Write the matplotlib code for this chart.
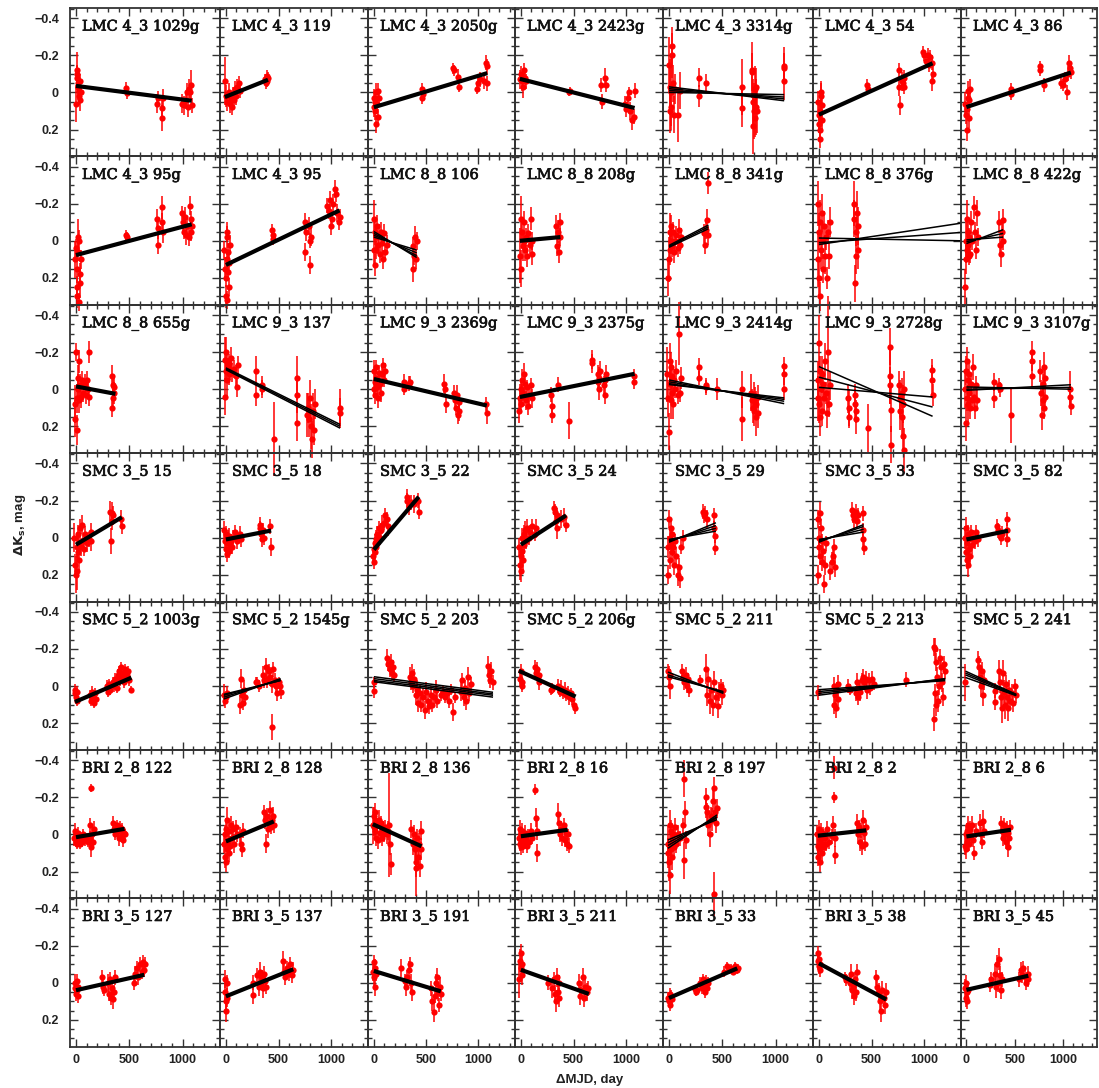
import numpy as np
import matplotlib
matplotlib.use("Agg")
import matplotlib.pyplot as plt
import matplotlib.patheffects as pe
from matplotlib.ticker import FixedLocator, MultipleLocator, FuncFormatter

# panel titles, row by row
names = ["LMC 4_3 1029g", "LMC 4_3 119", "LMC 4_3 2050g", "LMC 4_3 2423g", "LMC 4_3 3314g", "LMC 4_3 54", "LMC 4_3 86",
         "LMC 4_3 95g", "LMC 4_3 95", "LMC 8_8 106", "LMC 8_8 208g", "LMC 8_8 341g", "LMC 8_8 376g", "LMC 8_8 422g",
         "LMC 8_8 655g", "LMC 9_3 137", "LMC 9_3 2369g", "LMC 9_3 2375g", "LMC 9_3 2414g", "LMC 9_3 2728g", "LMC 9_3 3107g",
         "SMC 3_5 15", "SMC 3_5 18", "SMC 3_5 22", "SMC 3_5 24", "SMC 3_5 29", "SMC 3_5 33", "SMC 3_5 82",
         "SMC 5_2 1003g", "SMC 5_2 1545g", "SMC 5_2 203", "SMC 5_2 206g", "SMC 5_2 211", "SMC 5_2 213", "SMC 5_2 241",
         "BRI 2_8 122", "BRI 2_8 128", "BRI 2_8 136", "BRI 2_8 16", "BRI 2_8 197", "BRI 2_8 2", "BRI 2_8 6",
         "BRI 3_5 127", "BRI 3_5 137", "BRI 3_5 191", "BRI 3_5 211", "BRI 3_5 33", "BRI 3_5 38", "BRI 3_5 45"]

# fitted lines: x range and start / end values (one value = tight bundle)
fit_x = [(0, 1085), (-10, 400), (0, 1085), (-10, 1080), (0, 1080), (0, 1080), (0, 1080),
         (0, 1085), (0, 1080), (0, 410), (-10, 375), (0, 370), (0, 1350), (0, 380),
         (0, 370), (0, 1085), (0, 1080), (-10, 1080), (0, 1080), (0, 1080), (0, 1080),
         (0, 430), (0, 430), (0, 430), (0, 430), (0, 440), (0, 425), (0, 430),
         (-10, 520), (-20, 520), (0, 1140), (-20, 520), (-10, 510), (-5, 1200), (-10, 515),
         (0, 455), (0, 455), (-10, 455), (0, 445), (-10, 450), (-10, 450), (0, 460),
         (0, 640), (0, 640), (0, 640), (0, 645), (0, 640), (0, 640), (0, 640)]
fit_y0 = [[-0.035], [0.025], [0.08], [-0.073], [-0.03, -0.02, -0.01, 0.0], [0.12], [0.079],
          [0.077], [0.13], [-0.05, -0.04, -0.03, -0.02], [0.0], [0.035, 0.03, 0.025], [0.02, 0.01, -0.015], [0.015, 0.005, -0.005],
          [-0.015], [-0.115, -0.11, -0.105], [-0.055], [0.042], [-0.05, -0.04, -0.03, -0.025], [-0.122, -0.065, -0.01], [0.006, 0.0, -0.012],
          [0.038], [0.01], [0.065], [0.038], [0.025, 0.02, 0.015, 0.01], [0.025, 0.02, 0.015, 0.01], [0.01],
          [0.086], [0.07, 0.06, 0.05, 0.045], [-0.05, -0.04, -0.03, -0.023], [-0.082], [-0.075, -0.06, -0.05], [0.05, 0.04, 0.03, 0.02], [-0.08, -0.07, -0.06, -0.046],
          [0.015], [0.038], [-0.055], [0.01], [0.075, 0.06, 0.045, 0.03], [0.007], [0.011],
          [0.04], [0.073], [-0.064], [-0.07], [0.082], [-0.105], [0.038]]
fit_y1 = [[0.045], [-0.068], [-0.104], [0.084], [0.045, 0.035, 0.025, 0.012], [-0.157], [-0.107],
          [-0.089], [-0.164], [0.09, 0.08, 0.065, 0.05], [-0.02], [-0.065, -0.075, -0.085], [-0.095, -0.045, 0.0], [-0.06, -0.04, -0.02],
          [0.025], [0.19, 0.2, 0.21], [0.088], [-0.083], [0.078, 0.065, 0.055, 0.047], [0.146, 0.096, 0.042], [-0.024, -0.01, 0.0],
          [-0.11], [-0.038], [-0.22], [-0.12], [-0.08, -0.065, -0.05, -0.035], [-0.07, -0.06, -0.045, -0.03], [-0.037],
          [-0.045], [-0.04, -0.035, -0.03, -0.03], [0.034, 0.043, 0.05, 0.06], [0.057], [0.04, 0.035, 0.03], [-0.04, -0.037, -0.033, -0.029], [0.045, 0.047, 0.05, 0.052],
          [-0.03], [-0.07], [0.064], [-0.025], [-0.105, -0.095, -0.09, -0.08], [-0.022], [-0.025],
          [-0.043], [-0.073], [0.046], [0.06], [-0.078], [0.09], [-0.038]]

# measurements (dMJD, dK, error) per star
lmc43_1029g = [(5, -0.12, 0.1), (10, -0.08, 0.06), (15, -0.05, 0.05), (20, -0.03, 0.07), (25, -0.01, 0.05), (30, 0.02, 0.05),
               (35, 0.04, 0.06), (0, 0.06, 0.1), (40, -0.06, 0.04), (45, 0.0, 0.04), (12, -0.1, 0.05), (470, -0.025, 0.03),
               (475, 0.005, 0.03), (760, 0.06, 0.05), (765, 0.03, 0.04), (805, 0.085, 0.05), (810, 0.14, 0.07), (815, 0.03, 0.05),
               (990, 0.06, 0.05), (1010, 0.07, 0.05), (1030, 0.04, 0.05), (1040, 0.0, 0.05), (1050, 0.08, 0.05), (1060, -0.02, 0.05),
               (1070, 0.0, 0.04), (1080, -0.04, 0.08), (1085, 0.07, 0.04)]
lmc43_119 = [(-10, -0.06, 0.13), (5, 0.02, 0.06), (15, 0.05, 0.05), (25, 0.0, 0.05), (35, 0.06, 0.05), (45, 0.03, 0.04),
             (55, 0.08, 0.04), (65, 0.01, 0.04), (75, 0.04, 0.04), (85, -0.02, 0.04), (100, 0.02, 0.05), (110, -0.03, 0.04),
             (120, -0.05, 0.04), (130, -0.01, 0.04), (370, -0.07, 0.03), (380, -0.05, 0.03), (390, -0.09, 0.03), (400, -0.08, 0.03),
             (395, -0.06, 0.03)]
lmc43_2050g = [(0, 0.03, 0.05), (10, 0.05, 0.06), (15, 0.1, 0.05), (20, 0.17, 0.05), (25, 0.0, 0.05), (30, 0.06, 0.04),
               (40, -0.01, 0.04), (50, 0.03, 0.04), (5, 0.08, 0.05), (35, 0.13, 0.04), (460, -0.02, 0.03), (470, 0.01, 0.03),
               (465, 0.03, 0.03), (755, -0.13, 0.03), (765, -0.12, 0.03), (805, -0.085, 0.04), (810, -0.03, 0.03),
               (990, -0.02, 0.03), (1000, -0.05, 0.03), (1020, -0.07, 0.04), (1050, -0.06, 0.04), (1075, -0.16, 0.04),
               (1080, -0.14, 0.04), (1085, -0.05, 0.04)]
lmc43_2423g = [(-10, -0.07, 0.05), (0, -0.1, 0.04), (10, -0.06, 0.05), (20, -0.03, 0.06), (30, -0.12, 0.04), (40, -0.08, 0.04),
               (45, -0.06, 0.04), (460, 0.0, 0.02), (465, -0.01, 0.02), (760, -0.04, 0.04), (770, 0.05, 0.04), (805, -0.04, 0.04),
               (800, -0.08, 0.05), (990, 0.06, 0.04), (1000, 0.09, 0.04), (1020, 0.03, 0.04), (1030, 0.0, 0.03), (1040, 0.1, 0.05),
               (1060, 0.15, 0.05), (1075, 0.13, 0.04), (1080, -0.01, 0.04)]
lmc43_3314g = [(0, -0.15, 0.15), (5, 0.1, 0.12), (10, -0.03, 0.15), (15, 0.0, 0.2), (20, 0.08, 0.1), (25, -0.2, 0.12),
               (30, -0.25, 0.1), (40, -0.05, 0.1), (50, 0.12, 0.1), (60, -0.02, 0.08), (80, 0.12, 0.15), (100, -0.01, 0.1),
               (280, -0.08, 0.05), (285, 0.02, 0.06), (345, -0.05, 0.05), (680, -0.03, 0.15), (682, 0.085, 0.1),
               (775, -0.12, 0.15), (780, -0.11, 0.1), (785, 0.18, 0.15), (790, 0.05, 0.12), (800, 0.1, 0.15), (805, -0.02, 0.12),
               (810, 0.14, 0.1), (815, 0.08, 0.15), (820, -0.03, 0.1), (825, 0.1, 0.12), (1075, -0.145, 0.1), (1078, -0.13, 0.08),
               (1080, -0.06, 0.1)]
lmc43_54 = [(-10, 0.05, 0.06), (0, 0.12, 0.08), (5, 0.17, 0.05), (10, 0.1, 0.06), (15, 0.25, 0.05), (20, 0.02, 0.07),
            (25, 0.07, 0.05), (30, 0.15, 0.05), (8, 0.2, 0.06), (18, 0.0, 0.06), (460, -0.04, 0.03), (470, -0.02, 0.03),
            (760, -0.12, 0.04), (765, -0.03, 0.05), (770, 0.07, 0.05), (790, -0.06, 0.05), (800, -0.05, 0.04), (805, -0.08, 0.04),
            (810, -0.03, 0.04), (985, -0.22, 0.03), (1000, -0.2, 0.03), (1020, -0.17, 0.04), (1040, -0.2, 0.04),
            (1050, -0.15, 0.04), (1060, -0.19, 0.04), (1070, -0.16, 0.04), (1075, -0.06, 0.05), (1080, -0.1, 0.04)]
lmc43_86 = [(-10, 0.06, 0.06), (0, 0.12, 0.05), (5, 0.2, 0.06), (10, 0.09, 0.04), (15, 0.03, 0.05), (20, -0.01, 0.05),
            (25, 0.14, 0.05), (30, 0.04, 0.04), (40, -0.02, 0.05), (460, -0.02, 0.03), (465, 0.01, 0.03), (760, -0.14, 0.03),
            (765, -0.12, 0.03), (805, -0.04, 0.04), (980, -0.05, 0.03), (1000, -0.04, 0.03), (1020, -0.07, 0.04),
            (1035, 0.0, 0.04), (1050, -0.1, 0.04), (1065, -0.16, 0.04), (1075, -0.13, 0.04), (1080, -0.11, 0.04)]

lmc43_95g = [(-10, 0.1, 0.1), (0, 0.04, 0.05), (5, 0.25, 0.06), (10, 0.15, 0.08), (15, -0.02, 0.1), (20, 0.06, 0.05),
             (25, 0.33, 0.05), (30, 0.0, 0.06), (35, 0.18, 0.06), (40, 0.23, 0.08), (45, 0.1, 0.05), (12, 0.3, 0.06),
             (470, -0.03, 0.03), (475, -0.02, 0.03), (760, -0.12, 0.05), (765, -0.07, 0.06), (768, 0.02, 0.05),
             (805, -0.18, 0.06), (810, -0.1, 0.05), (812, -0.05, 0.06), (990, -0.15, 0.04), (1000, -0.1, 0.05),
             (1010, -0.05, 0.04), (1020, -0.13, 0.05), (1030, -0.03, 0.05), (1045, -0.08, 0.04), (1055, -0.02, 0.05),
             (1065, -0.19, 0.05), (1075, -0.12, 0.04), (1080, -0.05, 0.05), (1085, -0.08, 0.04)]
lmc43_95 = [(-20, 0.05, 0.05), (-10, 0.15, 0.06), (0, 0.2, 0.05), (5, 0.3, 0.06), (10, 0.1, 0.05), (15, -0.05, 0.05),
            (20, 0.17, 0.04), (25, 0.25, 0.05), (30, 0.12, 0.05), (35, 0.02, 0.05), (12, 0.32, 0.05), (22, 0.06, 0.05),
            (8, -0.02, 0.06), (440, -0.06, 0.03), (445, -0.03, 0.03), (450, -0.01, 0.03), (750, -0.1, 0.05), (755, 0.06, 0.05),
            (760, -0.05, 0.05), (790, -0.08, 0.05), (795, 0.0, 0.04), (800, 0.13, 0.05), (805, -0.02, 0.05), (960, -0.19, 0.04),
            (975, -0.16, 0.04), (990, -0.22, 0.05), (1000, -0.08, 0.05), (1010, -0.12, 0.04), (1020, -0.2, 0.05),
            (1040, -0.28, 0.05), (1050, -0.25, 0.04), (1060, -0.15, 0.05), (1075, -0.1, 0.04), (1080, -0.13, 0.04)]
lmc88_106 = [(0, -0.12, 0.1), (5, 0.05, 0.08), (10, -0.05, 0.07), (15, 0.13, 0.06), (20, -0.02, 0.06), (25, 0.05, 0.05),
             (30, -0.08, 0.06), (40, 0.02, 0.05), (50, -0.03, 0.06), (60, 0.07, 0.05), (70, -0.05, 0.05), (80, 0.01, 0.05),
             (90, 0.1, 0.05), (100, -0.04, 0.05), (110, 0.06, 0.04), (130, 0.02, 0.05), (370, 0.03, 0.05), (375, 0.15, 0.07),
             (380, 0.08, 0.05), (390, -0.02, 0.06), (400, 0.1, 0.05), (410, 0.0, 0.05)]
lmc88_208g = [(-10, 0.08, 0.15), (0, -0.12, 0.12), (5, 0.15, 0.1), (10, -0.05, 0.08), (20, 0.03, 0.08), (25, -0.1, 0.06),
              (30, 0.0, 0.05), (40, 0.05, 0.06), (50, -0.02, 0.05), (60, 0.08, 0.06), (70, -0.04, 0.05), (85, 0.02, 0.05),
              (95, -0.12, 0.06), (105, 0.07, 0.06), (110, 0.0, 0.05), (330, -0.08, 0.06), (340, 0.03, 0.05), (350, -0.05, 0.06),
              (360, 0.06, 0.06), (370, -0.02, 0.05), (375, -0.1, 0.05)]
lmc88_341g = [(-5, 0.2, 0.1), (0, 0.1, 0.12), (5, -0.05, 0.1), (10, 0.05, 0.08), (15, 0.0, 0.07), (20, -0.08, 0.06),
              (30, 0.03, 0.06), (40, -0.05, 0.05), (50, 0.06, 0.06), (60, 0.0, 0.05), (70, -0.03, 0.05), (80, 0.04, 0.05),
              (90, -0.06, 0.06), (100, 0.02, 0.05), (110, -0.02, 0.05), (330, -0.04, 0.05), (340, 0.02, 0.05),
              (350, -0.06, 0.05), (360, -0.11, 0.06), (365, -0.31, 0.06), (370, -0.03, 0.05)]
lmc88_376g = [(-10, -0.2, 0.12), (-5, 0.1, 0.15), (0, -0.05, 0.1), (5, 0.2, 0.1), (10, 0.3, 0.08), (15, -0.1, 0.12),
              (20, 0.05, 0.1), (25, -0.15, 0.1), (30, 0.0, 0.1), (40, 0.15, 0.08), (50, -0.08, 0.08), (60, 0.08, 0.1),
              (70, -0.02, 0.07), (80, 0.2, 0.06), (90, -0.05, 0.06), (100, 0.08, 0.07), (110, -0.1, 0.08), (330, -0.2, 0.12),
              (335, -0.12, 0.1), (340, 0.23, 0.1), (350, -0.05, 0.08), (355, 0.08, 0.1), (360, -0.15, 0.12), (370, 0.05, 0.1),
              (375, -0.08, 0.1)]
lmc88_422g = [(-10, 0.25, 0.1), (-5, 0.0, 0.12), (0, 0.1, 0.08), (5, -0.12, 0.1), (10, 0.05, 0.06), (15, -0.05, 0.06),
              (20, 0.02, 0.05), (25, 0.08, 0.05), (30, -0.02, 0.05), (40, 0.07, 0.05), (50, -0.1, 0.06), (60, 0.0, 0.05),
              (80, -0.18, 0.06), (90, -0.05, 0.05), (100, 0.05, 0.05), (110, -0.15, 0.07), (120, -0.02, 0.05),
              (340, -0.1, 0.06), (350, 0.02, 0.05), (355, 0.07, 0.07), (365, -0.05, 0.06), (375, 0.0, 0.05), (380, -0.11, 0.06)]

lmc88_655g = [(-10, 0.08, 0.1), (-5, 0.16, 0.1), (0, -0.2, 0.05), (5, 0.05, 0.08), (10, 0.22, 0.08), (15, -0.06, 0.07),
              (20, 0.0, 0.08), (25, -0.15, 0.06), (30, 0.06, 0.07), (40, -0.02, 0.06), (50, 0.04, 0.06), (60, -0.05, 0.05),
              (70, 0.02, 0.05), (80, -0.03, 0.05), (90, 0.03, 0.05), (100, -0.05, 0.05), (110, 0.0, 0.05), (120, -0.2, 0.06),
              (125, 0.04, 0.05), (335, -0.07, 0.06), (340, 0.1, 0.05), (345, -0.02, 0.05), (350, 0.05, 0.05), (355, 0.02, 0.06),
              (360, -0.01, 0.05)]
lmc93_137 = [(-10, 0.04, 0.1), (-5, -0.16, 0.12), (0, -0.2, 0.08), (5, -0.1, 0.06), (10, -0.15, 0.06), (15, -0.05, 0.1),
             (20, -0.12, 0.05), (25, -0.08, 0.06), (30, -0.14, 0.05), (40, -0.1, 0.05), (50, -0.17, 0.06), (60, -0.09, 0.05),
             (80, -0.11, 0.05), (100, -0.07, 0.06), (110, -0.01, 0.05), (115, -0.13, 0.05), (285, -0.1, 0.08), (290, 0.03, 0.06),
             (340, -0.02, 0.05), (345, 0.0, 0.05), (458, 0.27, 0.2), (675, -0.06, 0.12), (678, 0.03, 0.1), (680, 0.18, 0.1),
             (770, 0.14, 0.12), (780, 0.1, 0.08), (790, 0.16, 0.1), (800, 0.05, 0.1), (810, 0.2, 0.12), (820, 0.27, 0.1),
             (830, 0.12, 0.1), (840, 0.22, 0.08), (845, 0.08, 0.08), (1080, 0.1, 0.1), (1085, 0.13, 0.08)]
lmc93_2369g = [(0, 0.0, 0.05), (5, -0.1, 0.06), (10, -0.04, 0.05), (15, 0.03, 0.05), (20, -0.12, 0.04), (25, -0.06, 0.05),
               (30, -0.01, 0.05), (40, 0.05, 0.05), (50, -0.09, 0.04), (60, -0.03, 0.04), (70, 0.02, 0.05), (80, -0.08, 0.04),
               (90, -0.13, 0.04), (100, -0.05, 0.04), (110, -0.1, 0.04), (285, -0.04, 0.04), (290, 0.0, 0.03), (340, -0.03, 0.04),
               (345, -0.04, 0.03), (675, -0.03, 0.05), (680, 0.0, 0.04), (688, 0.08, 0.05), (770, 0.02, 0.04), (780, 0.06, 0.05),
               (790, 0.1, 0.04), (800, 0.03, 0.05), (805, 0.14, 0.05), (810, 0.07, 0.04), (815, 0.12, 0.05), (1075, 0.08, 0.04),
               (1080, 0.13, 0.06)]
lmc93_2375g = [(-15, 0.12, 0.06), (-5, 0.05, 0.08), (0, 0.0, 0.05), (5, 0.08, 0.05), (10, -0.05, 0.06), (15, 0.02, 0.05),
               (25, -0.08, 0.06), (30, 0.04, 0.05), (40, -0.03, 0.05), (50, 0.06, 0.05), (60, -0.01, 0.04), (70, 0.09, 0.05),
               (80, 0.03, 0.05), (95, -0.02, 0.04), (105, 0.05, 0.05), (290, 0.03, 0.04), (292, 0.09, 0.04), (295, 0.14, 0.04),
               (350, -0.025, 0.04), (460, 0.17, 0.1), (675, -0.14, 0.05), (680, -0.16, 0.05), (730, -0.08, 0.05),
               (735, -0.04, 0.05), (740, 0.0, 0.06), (745, -0.06, 0.06), (750, -0.1, 0.05), (790, -0.02, 0.05), (795, 0.03, 0.05),
               (800, -0.05, 0.04), (805, -0.08, 0.05), (1070, -0.07, 0.04), (1078, -0.04, 0.04)]
lmc93_2414g = [(-20, -0.08, 0.15), (-10, 0.05, 0.1), (0, 0.23, 0.1), (5, -0.15, 0.1), (10, -0.03, 0.08), (15, 0.06, 0.1),
               (20, -0.12, 0.08), (25, 0.02, 0.06), (30, -0.07, 0.07), (40, 0.08, 0.08), (50, -0.05, 0.06), (60, 0.0, 0.05),
               (70, -0.1, 0.06), (80, 0.03, 0.05), (90, -0.3, 0.17), (100, 0.02, 0.05), (110, -0.06, 0.06), (280, -0.12, 0.05),
               (282, -0.06, 0.04), (344, -0.02, 0.04), (348, -0.01, 0.04), (453, 0.0, 0.06), (680, 0.0, 0.1), (683, 0.16, 0.12),
               (765, 0.02, 0.1), (775, 0.06, 0.06), (785, 0.1, 0.08), (795, 0.03, 0.07), (800, 0.12, 0.08), (810, 0.05, 0.06),
               (815, 0.15, 0.1), (820, 0.08, 0.07), (830, 0.04, 0.06), (835, 0.13, 0.08), (1075, -0.125, 0.05),
               (1078, -0.08, 0.06), (1080, 0.0, 0.06)]
lmc93_2728g = [(-10, -0.05, 0.1), (-5, 0.05, 0.12), (0, -0.25, 0.15), (5, 0.08, 0.1), (10, -0.1, 0.08), (15, 0.15, 0.1),
               (20, 0.0, 0.08), (25, -0.08, 0.1), (30, 0.12, 0.08), (40, -0.03, 0.07), (50, 0.05, 0.08), (60, -0.15, 0.1),
               (70, 0.02, 0.06), (80, 0.13, 0.08), (90, -0.2, 0.3), (100, 0.08, 0.07), (105, -0.02, 0.08), (280, 0.05, 0.08),
               (285, 0.1, 0.1), (290, 0.15, 0.06), (340, 0.03, 0.06), (345, 0.08, 0.08), (350, 0.12, 0.06), (355, 0.16, 0.08),
               (462, 0.21, 0.13), (675, -0.23, 0.1), (677, -0.07, 0.15), (680, -0.02, 0.1), (682, 0.11, 0.12), (684, 0.3, 0.1),
               (765, -0.02, 0.08), (770, 0.05, 0.1), (775, 0.12, 0.1), (785, 0.02, 0.08), (790, 0.15, 0.12), (795, 0.25, 0.1),
               (800, 0.08, 0.1), (805, 0.33, 0.12), (810, 0.0, 0.1), (1075, -0.105, 0.06), (1078, -0.05, 0.08), (1080, 0.03, 0.06)]
lmc93_3107g = [(-15, 0.0, 0.1), (-5, -0.1, 0.08), (0, 0.18, 0.1), (5, 0.05, 0.07), (10, -0.15, 0.08), (15, 0.08, 0.1),
               (20, -0.05, 0.06), (25, 0.02, 0.05), (30, -0.08, 0.06), (40, 0.1, 0.06), (50, -0.03, 0.05), (60, 0.06, 0.06),
               (70, -0.12, 0.07), (80, 0.04, 0.05), (90, 0.1, 0.06), (100, -0.02, 0.05), (105, 0.06, 0.06), (280, -0.04, 0.05),
               (285, 0.05, 0.05), (340, -0.02, 0.04), (345, 0.0, 0.04), (460, 0.14, 0.15), (675, -0.2, 0.06), (678, -0.15, 0.05),
               (680, -0.07, 0.06), (765, -0.1, 0.06), (770, 0.02, 0.07), (780, 0.14, 0.08), (790, -0.03, 0.05), (795, 0.06, 0.06),
               (800, -0.12, 0.08), (805, 0.1, 0.06), (810, -0.06, 0.05), (812, 0.04, 0.06), (1070, 0.0, 0.1), (1075, 0.04, 0.06),
               (1080, 0.09, 0.05)]

smc35_15 = [(-15, 0.0, 0.08), (-5, 0.15, 0.06), (0, 0.2, 0.1), (5, 0.05, 0.06), (10, 0.18, 0.1), (15, -0.02, 0.05),
            (20, 0.08, 0.05), (25, 0.03, 0.05), (30, 0.12, 0.06), (35, -0.05, 0.05), (45, 0.05, 0.05), (55, -0.07, 0.05),
            (65, 0.02, 0.04), (75, 0.06, 0.04), (85, -0.02, 0.04), (100, 0.03, 0.05), (120, 0.01, 0.04), (140, -0.03, 0.05),
            (145, 0.02, 0.05), (320, -0.14, 0.06), (325, 0.02, 0.07), (335, -0.13, 0.06), (340, -0.09, 0.05),
            (345, -0.12, 0.05), (425, -0.1, 0.05), (430, -0.06, 0.04)]
smc35_18 = [(-15, -0.04, 0.05), (-5, 0.02, 0.05), (0, 0.06, 0.05), (5, -0.02, 0.04), (10, 0.09, 0.04), (15, 0.03, 0.04),
            (20, 0.0, 0.04), (25, 0.07, 0.04), (30, -0.01, 0.04), (40, 0.04, 0.04), (50, 0.02, 0.04), (60, 0.05, 0.04),
            (70, 0.0, 0.04), (90, -0.03, 0.04), (110, 0.02, 0.04), (130, -0.02, 0.04), (140, 0.01, 0.04), (320, -0.07, 0.04),
            (325, -0.05, 0.04), (335, -0.02, 0.04), (345, 0.01, 0.04), (355, -0.04, 0.04), (360, 0.0, 0.04), (420, -0.06, 0.04),
            (425, 0.05, 0.05)]
smc35_22 = [(-5, 0.1, 0.05), (0, 0.06, 0.04), (5, 0.13, 0.04), (10, 0.03, 0.05), (15, 0.08, 0.04), (20, 0.01, 0.05),
            (25, 0.05, 0.04), (30, -0.02, 0.04), (40, 0.02, 0.04), (50, -0.05, 0.04), (60, 0.0, 0.04), (70, -0.04, 0.04),
            (80, -0.07, 0.05), (100, -0.08, 0.04), (110, -0.12, 0.04), (125, -0.1, 0.04), (135, -0.06, 0.05),
            (315, -0.22, 0.04), (320, -0.2, 0.04), (340, -0.17, 0.05), (355, -0.19, 0.04), (380, -0.18, 0.05),
            (420, -0.2, 0.04), (435, -0.14, 0.04)]
smc35_24 = [(-15, 0.05, 0.05), (-5, 0.15, 0.08), (0, 0.1, 0.06), (5, 0.18, 0.06), (10, 0.0, 0.05), (15, 0.07, 0.05),
            (20, 0.12, 0.06), (25, -0.02, 0.05), (30, 0.04, 0.05), (40, -0.04, 0.05), (50, 0.02, 0.04), (60, -0.05, 0.05),
            (75, 0.0, 0.04), (90, -0.03, 0.04), (110, -0.06, 0.04), (130, -0.02, 0.04), (140, -0.05, 0.05),
            (315, -0.16, 0.04), (320, -0.14, 0.04), (330, -0.09, 0.05), (340, -0.12, 0.04), (345, -0.05, 0.06),
            (380, -0.1, 0.05), (410, -0.11, 0.05), (430, -0.07, 0.04)]
smc35_29 = [(-10, 0.2, 0.05), (-5, 0.05, 0.06), (0, -0.1, 0.05), (5, 0.0, 0.06), (10, 0.12, 0.05), (15, -0.05, 0.05),
            (20, 0.03, 0.04), (25, 0.08, 0.05), (30, -0.02, 0.04), (40, 0.05, 0.05), (50, 0.15, 0.05), (60, 0.02, 0.04),
            (70, 0.1, 0.05), (80, 0.2, 0.06), (90, 0.16, 0.05), (100, 0.22, 0.05), (110, 0.05, 0.04), (130, 0.0, 0.04),
            (315, -0.14, 0.04), (325, -0.12, 0.04), (340, -0.13, 0.04), (355, -0.1, 0.05), (420, -0.12, 0.04),
            (425, -0.05, 0.04), (430, -0.01, 0.04), (435, 0.055, 0.04)]
smc35_33 = [(-10, 0.2, 0.05), (-5, -0.1, 0.05), (0, 0.0, 0.06), (5, 0.05, 0.05), (10, -0.13, 0.06), (15, 0.1, 0.05),
            (20, -0.05, 0.05), (25, 0.13, 0.05), (30, 0.02, 0.04), (40, 0.07, 0.05), (50, 0.25, 0.05), (60, 0.15, 0.05),
            (70, 0.03, 0.04), (110, 0.18, 0.05), (120, 0.13, 0.05), (130, 0.1, 0.05), (140, 0.05, 0.04), (150, 0.16, 0.05),
            (310, -0.15, 0.04), (320, -0.12, 0.04), (335, -0.1, 0.05), (350, -0.14, 0.04), (365, -0.09, 0.04),
            (375, -0.12, 0.04), (418, -0.13, 0.04), (420, -0.04, 0.04), (422, 0.01, 0.04), (425, 0.055, 0.04)]
smc35_82 = [(-15, 0.0, 0.06), (-5, 0.08, 0.05), (0, -0.05, 0.06), (5, 0.12, 0.05), (10, 0.03, 0.05), (15, 0.15, 0.06),
            (20, -0.02, 0.05), (25, 0.06, 0.05), (30, 0.01, 0.04), (40, 0.1, 0.05), (50, -0.03, 0.04), (60, 0.04, 0.05),
            (70, 0.0, 0.04), (85, 0.02, 0.04), (100, -0.03, 0.04), (115, 0.01, 0.04), (315, -0.06, 0.04), (325, -0.04, 0.04),
            (340, -0.03, 0.04), (355, 0.0, 0.04), (365, -0.02, 0.04), (418, -0.1, 0.04), (420, -0.04, 0.04), (422, 0.01, 0.04)]

smc52_1003g = [(-10, 0.02, 0.03), (-5, 0.04, 0.03), (0, 0.06, 0.03), (5, 0.08, 0.03), (10, 0.03, 0.03), (130, 0.05, 0.03),
               (140, 0.08, 0.03), (150, 0.03, 0.03), (160, 0.06, 0.03), (170, 0.09, 0.03), (180, 0.04, 0.03), (190, 0.07, 0.03),
               (290, 0.0, 0.03), (300, 0.03, 0.03), (310, -0.01, 0.03), (320, 0.02, 0.03), (350, -0.02, 0.03), (360, 0.0, 0.03),
               (370, -0.04, 0.03), (380, 0.01, 0.03), (390, -0.06, 0.03), (400, -0.08, 0.03), (410, -0.03, 0.03),
               (420, -0.1, 0.03), (430, -0.05, 0.03), (440, -0.07, 0.03), (450, -0.02, 0.03), (460, -0.09, 0.03),
               (470, -0.04, 0.03), (480, -0.06, 0.03), (490, -0.08, 0.03), (500, -0.03, 0.03), (520, 0.02, 0.02)]
smc52_1545g = [(-20, 0.05, 0.06), (-10, 0.08, 0.04), (0, 0.06, 0.03), (10, 0.04, 0.04), (130, 0.1, 0.05), (140, -0.04, 0.05),
               (150, 0.05, 0.04), (160, 0.09, 0.04), (170, 0.02, 0.05), (180, 0.06, 0.04), (290, -0.02, 0.03), (300, -0.02, 0.03),
               (310, 0.0, 0.03), (350, -0.06, 0.05), (365, -0.03, 0.04), (380, -0.1, 0.05), (390, -0.04, 0.05),
               (405, -0.08, 0.04), (420, -0.05, 0.05), (435, -0.01, 0.05), (440, 0.22, 0.07), (450, -0.09, 0.04),
               (465, -0.03, 0.04), (480, 0.0, 0.03), (490, 0.04, 0.04), (500, -0.02, 0.03), (510, 0.0, 0.03), (520, 0.03, 0.04)]
smc52_203 = [(0, 0.025, 0.04), (5, -0.02, 0.03), (130, -0.15, 0.05), (140, -0.12, 0.04), (150, -0.09, 0.04), (160, -0.13, 0.04),
             (170, -0.07, 0.04), (180, -0.1, 0.04), (190, -0.06, 0.04), (345, -0.05, 0.05), (355, -0.02, 0.04),
             (365, -0.07, 0.05), (375, 0.0, 0.04), (385, -0.04, 0.05), (400, 0.05, 0.05), (415, 0.02, 0.05), (425, 0.09, 0.05),
             (440, 0.04, 0.05), (455, 0.1, 0.04), (470, 0.06, 0.05), (485, 0.13, 0.05), (500, 0.03, 0.05), (515, 0.08, 0.05),
             (530, 0.11, 0.04), (545, 0.05, 0.05), (560, 0.1, 0.04), (575, 0.06, 0.04), (590, 0.02, 0.05), (600, 0.08, 0.04),
             (645, 0.05, 0.03), (660, 0.03, 0.03), (680, 0.06, 0.03), (700, 0.04, 0.03), (720, 0.08, 0.04), (740, 0.02, 0.03),
             (760, 0.14, 0.05), (775, 0.06, 0.03), (830, 0.03, 0.05), (845, -0.03, 0.04), (860, 0.06, 0.05), (870, 0.01, 0.04),
             (885, 0.08, 0.05), (900, -0.05, 0.05), (910, 0.04, 0.04), (925, -0.01, 0.04), (1095, -0.11, 0.05),
             (1105, -0.06, 0.05), (1115, -0.03, 0.04), (1125, -0.08, 0.05), (1140, -0.02, 0.04)]
smc52_206g = [(-10, -0.04, 0.04), (0, -0.08, 0.04), (10, -0.02, 0.04), (15, 0.0, 0.03), (135, -0.1, 0.04), (145, -0.07, 0.04),
              (155, -0.09, 0.04), (165, -0.05, 0.04), (170, -0.02, 0.04), (175, -0.06, 0.03), (290, 0.02, 0.03),
              (300, 0.015, 0.03), (355, 0.0, 0.04), (370, 0.03, 0.03), (385, 0.01, 0.04), (400, 0.04, 0.03), (415, 0.02, 0.04),
              (430, 0.05, 0.03), (445, 0.03, 0.03), (460, 0.06, 0.04), (475, 0.04, 0.03), (490, 0.07, 0.03), (505, 0.1, 0.03),
              (515, 0.12, 0.03)]
smc52_211 = [(-10, -0.08, 0.04), (0, -0.05, 0.06), (5, 0.0, 0.07), (10, -0.06, 0.03), (125, -0.08, 0.04), (135, -0.05, 0.04),
             (145, -0.02, 0.04), (155, -0.06, 0.04), (165, 0.0, 0.04), (175, -0.04, 0.03), (185, 0.02, 0.04),
             (295, -0.03, 0.03), (345, -0.09, 0.08), (355, 0.05, 0.06), (365, -0.04, 0.05), (380, 0.08, 0.07),
             (395, 0.02, 0.05), (410, 0.1, 0.06), (425, -0.02, 0.06), (440, 0.06, 0.05), (455, 0.11, 0.06), (470, 0.03, 0.05),
             (485, 0.0, 0.04), (500, 0.05, 0.05), (510, 0.02, 0.04)]
smc52_213 = [(-5, 0.035, 0.04), (140, 0.0, 0.05), (145, 0.1, 0.05), (150, 0.05, 0.04), (160, 0.12, 0.05), (170, 0.02, 0.04),
             (180, 0.07, 0.04), (185, -0.01, 0.05), (280, 0.0, 0.04), (295, 0.02, 0.03), (350, 0.04, 0.04), (360, -0.02, 0.05),
             (370, 0.06, 0.04), (380, 0.01, 0.04), (390, 0.03, 0.05), (405, -0.03, 0.04), (420, -0.05, 0.04),
             (430, -0.02, 0.04), (445, -0.04, 0.04), (460, 0.02, 0.05), (475, -0.03, 0.04), (490, 0.01, 0.04),
             (505, -0.04, 0.04), (520, -0.01, 0.03), (825, -0.035, 0.04), (1090, 0.18, 0.06), (1095, -0.21, 0.05),
             (1100, -0.2, 0.06), (1105, 0.04, 0.05), (1110, 0.1, 0.06), (1115, -0.13, 0.05), (1120, -0.05, 0.05),
             (1130, 0.08, 0.06), (1140, 0.0, 0.05), (1150, -0.15, 0.05), (1160, -0.1, 0.06), (1170, -0.02, 0.05),
             (1180, 0.06, 0.05), (1190, -0.12, 0.04), (1200, -0.08, 0.04)]
smc52_241 = [(-10, -0.02, 0.1), (120, -0.14, 0.05), (130, -0.1, 0.06), (140, -0.05, 0.06), (150, 0.0, 0.06), (160, -0.08, 0.05),
             (170, 0.05, 0.06), (180, -0.03, 0.05), (293, 0.025, 0.04), (297, 0.088, 0.04), (340, -0.08, 0.06),
             (350, -0.02, 0.06), (360, 0.06, 0.05), (370, 0.12, 0.08), (380, -0.07, 0.07), (390, 0.03, 0.06), (400, 0.1, 0.08),
             (410, -0.01, 0.05), (420, 0.06, 0.06), (430, 0.12, 0.07), (440, 0.02, 0.05), (455, 0.08, 0.05), (470, 0.04, 0.05),
             (485, 0.09, 0.05), (500, 0.0, 0.04), (510, 0.05, 0.04)]

bri28_122 = [(-15, 0.02, 0.04), (-5, -0.02, 0.04), (0, 0.04, 0.03), (5, 0.0, 0.03), (10, 0.05, 0.03), (15, -0.01, 0.03),
             (20, 0.03, 0.03), (30, 0.01, 0.03), (40, 0.05, 0.03), (50, 0.02, 0.03), (60, 0.04, 0.03), (70, 0.0, 0.03),
             (85, 0.03, 0.03), (100, 0.02, 0.03), (110, 0.04, 0.03), (140, -0.25, 0.02), (130, -0.05, 0.04), (135, 0.02, 0.04),
             (145, 0.07, 0.05), (150, 0.0, 0.04), (160, 0.04, 0.04), (165, -0.03, 0.04), (350, -0.06, 0.04), (360, -0.03, 0.03),
             (370, 0.0, 0.03), (380, -0.05, 0.03), (390, -0.02, 0.04), (400, 0.02, 0.04), (410, -0.04, 0.03), (420, 0.01, 0.03),
             (430, -0.03, 0.03), (440, 0.03, 0.04), (450, -0.01, 0.03), (460, 0.0, 0.03)]
bri28_128 = [(-15, 0.05, 0.05), (-10, 0.12, 0.06), (-5, 0.0, 0.05), (0, 0.15, 0.05), (5, -0.03, 0.06), (10, 0.08, 0.06),
             (15, -0.08, 0.07), (20, 0.04, 0.05), (25, 0.1, 0.05), (30, -0.02, 0.05), (40, 0.06, 0.05), (50, -0.05, 0.05),
             (60, 0.02, 0.04), (70, -0.03, 0.04), (80, 0.05, 0.05), (95, -0.04, 0.04), (110, 0.0, 0.04), (130, 0.0, 0.04),
             (140, 0.05, 0.04), (150, 0.08, 0.04), (160, -0.02, 0.04), (360, -0.12, 0.04), (370, -0.08, 0.05),
             (380, 0.05, 0.05), (390, -0.1, 0.04), (400, -0.03, 0.05), (410, -0.06, 0.04), (420, -0.13, 0.05),
             (430, -0.04, 0.04), (440, -0.08, 0.04), (450, -0.1, 0.05), (460, -0.05, 0.04)]
bri28_136 = [(-10, -0.05, 0.1), (0, -0.1, 0.05), (5, -0.04, 0.05), (10, -0.12, 0.05), (15, -0.02, 0.04), (20, -0.07, 0.04),
             (25, 0.02, 0.04), (30, -0.05, 0.04), (40, 0.03, 0.05), (50, -0.08, 0.05), (60, -0.01, 0.04), (70, -0.06, 0.04),
             (80, 0.02, 0.04), (90, -0.03, 0.04), (100, 0.0, 0.04), (110, -0.04, 0.04), (130, 0.0, 0.05), (140, -0.02, 0.05),
             (145, -0.05, 0.28), (150, 0.05, 0.06), (160, 0.16, 0.06), (360, -0.03, 0.05), (370, 0.05, 0.06), (380, 0.0, 0.05),
             (390, 0.08, 0.06), (400, 0.15, 0.08), (405, 0.18, 0.15), (410, 0.02, 0.05), (420, 0.12, 0.07), (430, 0.05, 0.06),
             (440, 0.17, 0.06), (450, -0.02, 0.05), (455, 0.08, 0.06)]
bri28_16 = [(-15, 0.02, 0.04), (-10, 0.05, 0.04), (-5, -0.03, 0.05), (0, 0.07, 0.04), (5, 0.0, 0.04), (10, 0.04, 0.04),
            (15, -0.02, 0.04), (20, 0.06, 0.04), (25, 0.01, 0.04), (30, 0.05, 0.03), (40, -0.01, 0.04), (50, 0.03, 0.03),
            (60, 0.06, 0.04), (70, 0.0, 0.03), (80, 0.04, 0.03), (95, -0.02, 0.04), (105, 0.02, 0.03), (135, -0.24, 0.03),
            (140, -0.09, 0.05), (150, -0.02, 0.05), (155, 0.1, 0.05), (355, -0.11, 0.06), (365, -0.06, 0.05), (375, 0.0, 0.04),
            (385, -0.03, 0.04), (395, 0.02, 0.04), (405, -0.05, 0.04), (415, 0.03, 0.04), (425, -0.01, 0.04), (435, 0.05, 0.04),
            (445, 0.0, 0.03), (455, 0.06, 0.04)]
bri28_197 = [(-10, 0.05, 0.1), (-5, 0.1, 0.08), (0, 0.15, 0.1), (5, -0.05, 0.08), (10, 0.22, 0.1), (15, 0.08, 0.06),
             (20, -0.02, 0.06), (25, 0.12, 0.07), (30, 0.03, 0.05), (40, 0.0, 0.05), (50, 0.07, 0.06), (60, -0.04, 0.05),
             (70, 0.05, 0.05), (80, 0.0, 0.05), (100, 0.02, 0.04), (130, -0.05, 0.04), (140, -0.3, 0.1), (145, 0.14, 0.1),
             (150, -0.12, 0.06), (160, 0.03, 0.05), (345, -0.15, 0.06), (350, -0.2, 0.05), (360, -0.12, 0.05),
             (370, -0.05, 0.06), (380, 0.0, 0.07), (390, -0.1, 0.05), (400, -0.08, 0.06), (410, -0.18, 0.06),
             (420, -0.25, 0.06), (425, 0.32, 0.12), (430, -0.12, 0.05), (440, -0.06, 0.05), (450, -0.14, 0.05)]
bri28_2 = [(-15, 0.0, 0.05), (-10, 0.06, 0.05), (-5, 0.12, 0.05), (0, -0.03, 0.05), (5, 0.08, 0.05), (10, 0.03, 0.04),
           (15, 0.15, 0.05), (20, -0.02, 0.04), (25, 0.05, 0.04), (30, 0.1, 0.05), (40, 0.0, 0.04), (50, 0.07, 0.04),
           (60, 0.02, 0.04), (70, 0.05, 0.04), (80, -0.03, 0.04), (100, 0.04, 0.04), (120, 0.01, 0.04), (145, -0.2, 0.03),
           (140, -0.36, 0.06), (135, -0.05, 0.05), (150, 0.02, 0.05), (155, 0.11, 0.05), (360, -0.06, 0.05), (370, 0.0, 0.05),
           (380, -0.04, 0.04), (390, 0.04, 0.05), (400, -0.02, 0.04), (410, 0.06, 0.05), (420, -0.08, 0.05),
           (430, -0.01, 0.04), (440, 0.05, 0.04), (450, -0.04, 0.04)]
bri28_6 = [(-10, 0.06, 0.05), (-5, 0.0, 0.05), (0, 0.08, 0.05), (5, -0.02, 0.04), (10, 0.04, 0.04), (15, -0.05, 0.05),
           (20, 0.02, 0.04), (30, 0.05, 0.04), (40, -0.03, 0.04), (50, 0.01, 0.04), (60, -0.05, 0.05), (70, 0.03, 0.04),
           (80, 0.1, 0.04), (100, -0.02, 0.04), (140, -0.06, 0.05), (150, 0.0, 0.04), (160, 0.04, 0.04), (170, -0.07, 0.06),
           (180, -0.02, 0.04), (355, -0.06, 0.04), (365, -0.02, 0.04), (375, 0.02, 0.04), (385, -0.05, 0.04), (395, 0.0, 0.04),
           (405, 0.04, 0.04), (415, -0.03, 0.04), (425, 0.07, 0.05), (435, -0.01, 0.04), (445, 0.02, 0.04), (455, -0.04, 0.04)]

bri35_127 = [(-10, 0.0, 0.05), (-5, 0.03, 0.04), (0, 0.06, 0.04), (5, -0.01, 0.04), (10, 0.04, 0.03), (15, 0.07, 0.04),
             (20, 0.02, 0.03), (240, -0.03, 0.04), (250, 0.02, 0.04), (260, 0.04, 0.03), (300, 0.0, 0.05), (310, 0.06, 0.04),
             (320, -0.02, 0.04), (330, 0.08, 0.04), (340, 0.03, 0.05), (350, 0.09, 0.05), (360, 0.05, 0.04), (365, -0.03, 0.04),
             (540, 0.0, 0.04), (555, -0.05, 0.04), (570, -0.08, 0.04), (585, -0.03, 0.04), (600, -0.1, 0.04),
             (615, -0.06, 0.04), (625, -0.11, 0.04), (640, -0.07, 0.04), (645, -0.1, 0.04)]
bri35_137 = [(-10, 0.05, 0.05), (-5, -0.02, 0.05), (0, 0.1, 0.05), (5, 0.15, 0.06), (10, 0.0, 0.04), (15, 0.08, 0.05),
             (255, 0.0, 0.04), (258, 0.065, 0.05), (300, -0.04, 0.04), (310, 0.02, 0.05), (320, -0.06, 0.05), (330, 0.0, 0.04),
             (340, -0.03, 0.04), (350, 0.03, 0.05), (360, -0.05, 0.04), (370, -0.01, 0.04), (380, 0.02, 0.04),
             (540, -0.12, 0.05), (550, -0.06, 0.04), (565, -0.03, 0.04), (580, -0.08, 0.04), (595, -0.05, 0.04),
             (610, -0.1, 0.04), (625, -0.04, 0.04), (640, -0.07, 0.04)]
bri35_191 = [(-10, -0.06, 0.05), (0, -0.11, 0.04), (5, -0.03, 0.05), (10, 0.02, 0.05), (15, -0.08, 0.05), (20, -0.05, 0.04),
             (255, -0.08, 0.05), (300, -0.01, 0.04), (310, 0.02, 0.05), (320, -0.03, 0.04), (335, -0.07, 0.05),
             (345, -0.1, 0.04), (355, 0.0, 0.05), (365, 0.05, 0.05), (550, 0.03, 0.04), (560, 0.1, 0.05), (575, 0.16, 0.05),
             (585, 0.07, 0.04), (595, 0.0, 0.05), (605, -0.03, 0.05), (615, 0.05, 0.05), (625, 0.12, 0.04), (635, 0.02, 0.05),
             (645, 0.06, 0.04)]
bri35_211 = [(-15, -0.02, 0.1), (-5, -0.12, 0.06), (0, -0.16, 0.05), (5, -0.08, 0.05), (10, -0.04, 0.05), (15, -0.1, 0.05),
             (255, 0.0, 0.04), (300, 0.03, 0.05), (310, -0.02, 0.04), (320, 0.06, 0.05), (330, 0.1, 0.06), (340, -0.03, 0.05),
             (350, 0.05, 0.05), (360, 0.0, 0.04), (365, 0.08, 0.05), (550, 0.0, 0.05), (560, 0.07, 0.05), (575, 0.04, 0.04),
             (590, -0.03, 0.05), (600, 0.08, 0.05), (610, 0.02, 0.05), (625, 0.05, 0.05), (640, 0.03, 0.04)]
bri35_33 = [(-10, 0.08, 0.03), (0, 0.1, 0.03), (5, 0.06, 0.03), (10, 0.12, 0.03), (15, 0.07, 0.03), (25, 0.09, 0.03),
            (240, 0.035, 0.02), (250, 0.05, 0.02), (260, 0.04, 0.02), (295, 0.0, 0.03), (305, 0.03, 0.03), (315, -0.02, 0.03),
            (325, 0.02, 0.03), (335, 0.05, 0.03), (345, -0.01, 0.03), (355, 0.03, 0.03), (365, 0.0, 0.03), (520, -0.06, 0.03),
            (540, -0.09, 0.02), (560, -0.07, 0.02), (580, -0.08, 0.02), (600, -0.06, 0.02), (620, -0.09, 0.02),
            (640, -0.07, 0.02), (650, -0.08, 0.02)]
bri35_38 = [(-10, -0.12, 0.05), (-5, -0.16, 0.04), (0, -0.09, 0.04), (5, -0.13, 0.04), (10, -0.07, 0.04), (15, -0.1, 0.04),
            (250, -0.03, 0.03), (255, -0.015, 0.03), (295, 0.0, 0.04), (305, -0.05, 0.05), (315, 0.04, 0.05), (325, 0.02, 0.04),
            (335, 0.07, 0.05), (345, -0.02, 0.04), (355, 0.05, 0.05), (360, -0.06, 0.04), (545, -0.03, 0.04),
            (555, 0.02, 0.04), (570, 0.05, 0.05), (580, 0.1, 0.05), (590, 0.15, 0.06), (600, 0.04, 0.05), (615, 0.08, 0.04),
            (625, 0.12, 0.05), (640, 0.05, 0.05)]
bri35_45 = [(-10, 0.03, 0.05), (-5, 0.08, 0.05), (0, 0.0, 0.04), (5, 0.05, 0.04), (10, 0.1, 0.04), (15, 0.04, 0.04),
            (245, 0.01, 0.04), (250, -0.02, 0.04), (300, -0.05, 0.05), (310, 0.02, 0.06), (320, -0.1, 0.05), (330, 0.0, 0.05),
            (340, -0.13, 0.06), (350, -0.04, 0.05), (360, 0.04, 0.05), (370, -0.02, 0.04), (545, -0.02, 0.04),
            (560, -0.07, 0.04), (575, -0.04, 0.04), (590, -0.08, 0.04), (605, -0.03, 0.04), (620, 0.0, 0.04),
            (635, -0.05, 0.04), (640, -0.02, 0.04)]

points = [lmc43_1029g, lmc43_119, lmc43_2050g, lmc43_2423g, lmc43_3314g, lmc43_54, lmc43_86,
          lmc43_95g, lmc43_95, lmc88_106, lmc88_208g, lmc88_341g, lmc88_376g, lmc88_422g,
          lmc88_655g, lmc93_137, lmc93_2369g, lmc93_2375g, lmc93_2414g, lmc93_2728g, lmc93_3107g,
          smc35_15, smc35_18, smc35_22, smc35_24, smc35_29, smc35_33, smc35_82,
          smc52_1003g, smc52_1545g, smc52_203, smc52_206g, smc52_211, smc52_213, smc52_241,
          bri28_122, bri28_128, bri28_136, bri28_16, bri28_197, bri28_2, bri28_6,
          bri35_127, bri35_137, bri35_191, bri35_211, bri35_33, bri35_38, bri35_45]

W, H = 1099, 1088
col_left = [70, 220, 368, 515, 663, 813, 961]
col_right = [220, 368, 515, 663, 813, 961, 1097]
row_h = 148.4
frame = '#333333'

fig = plt.figure(figsize=(W / 100, H / 100), dpi=100)

for i in range(49):
    r, c = divmod(i, 7)
    top = 8 + row_h * r
    wpx = col_right[c] - col_left[c]
    ax = fig.add_axes([col_left[c] / W, 1 - (top + row_h) / H, wpx / W, row_h / H])
    ax.patch.set_visible(False)

    x, y, e = np.array(points[i]).T
    eb = ax.errorbar(x, y, yerr=e, fmt='o', color='red', ms=4.5, mew=0, elinewidth=1.1, capsize=0, zorder=2)
    for bar in eb.lines[2]:
        bar.set_clip_on(False)

    x0, x1 = fit_x[i]
    lw = 3.0 if len(fit_y0[i]) == 1 else 1.1
    for a, b in zip(fit_y0[i], fit_y1[i]):
        ax.plot([x0, x1], [a, b], color='black', lw=lw, zorder=3, solid_capstyle='butt')

    ax.set_xlim(-56, 1350)
    ax.set_ylim(0.345, -0.455)
    ax.xaxis.set_major_locator(FixedLocator([0, 500, 1000]))
    ax.xaxis.set_minor_locator(MultipleLocator(100))
    ax.yaxis.set_major_locator(FixedLocator([-0.4, -0.2, 0, 0.2]))
    ax.yaxis.set_minor_locator(MultipleLocator(0.05))
    ax.tick_params(which='both', direction='in', top=True, right=True, color=frame, width=1.0)
    ax.tick_params(which='major', length=6)
    ax.tick_params(which='minor', length=3)
    for sp in ax.spines.values():
        sp.set_linewidth(1.3)
        sp.set_color(frame)

    if c == 0:
        ax.yaxis.set_major_formatter(FuncFormatter(lambda v, p: ('%g' % v).replace('-', '\u2212')))
        for t in ax.get_yticklabels():
            t.set_fontfamily('Liberation Sans')
            t.set_fontweight('bold')
            t.set_fontsize(9)
            t.set_color('#222222')
        ax.tick_params(axis='y', pad=8)
    else:
        ax.set_yticklabels([])
    if r == 6:
        for t in ax.get_xticklabels():
            t.set_fontfamily('Liberation Sans')
            t.set_fontweight('bold')
            t.set_fontsize(9)
            t.set_color('#222222')
        ax.tick_params(axis='x', pad=5)
    else:
        ax.set_xticklabels([])

    ax.text(12 / wpx, 1 - 19 / row_h, names[i], transform=ax.transAxes, ha='left', va='center',
            fontsize=10.5, family='DejaVu Serif', color='#111111',
            path_effects=[pe.withStroke(linewidth=0.5, foreground='#111111')])

fig.text(20 / W, 1 - 525 / H, r'$\mathbf{\Delta K_s}$, mag', rotation=90, ha='center', va='center',
         fontsize=9.5, family='Liberation Sans', fontweight='bold', color='#222222')
fig.text(590 / W, 1 - 1080 / H, '\u0394MJD, day', ha='center', va='center',
         fontsize=9.5, family='Liberation Sans', fontweight='bold', color='#222222')

fig.savefig('out.png', dpi=100, facecolor='white')
